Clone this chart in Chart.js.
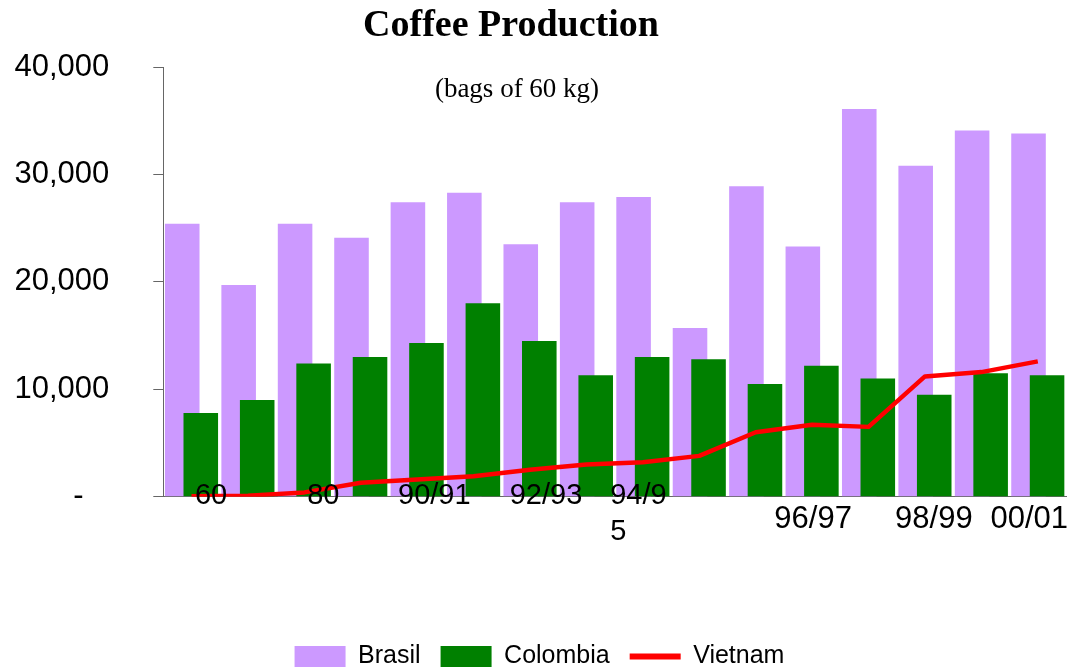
<!DOCTYPE html>
<html>
<head>
<meta charset="utf-8">
<title>Coffee Production</title>
<script src="https://cdn.jsdelivr.net/npm/chart.js@4.4.1/dist/chart.umd.min.js"></script>
<style>
  html, body { margin: 0; padding: 0; background: #ffffff; }
  #wrap { width: 1069px; height: 671px; position: relative; }
</style>
</head>
<body>
<div id="wrap"><canvas id="chart"></canvas></div>
<script>
// Production by crop year, thousands of 60 kg bags
const categories = ['60', '70', '80', '85', '90/91', '91/92', '92/93', '93/94',
  '94/95', '95/96', '96/97', '97/98', '98/99', '99/00', '00/01', '01/02'];
const brasil = [25400, 19700, 25400, 24100, 27400, 28300, 23500, 27400,
  27900, 15700, 28900, 23300, 36100, 30800, 34100, 33800];
const colombia = [7800, 9000, 12400, 13000, 14300, 18000, 14500, 11300,
  13000, 12800, 10500, 12200, 11000, 9500, 11500, 11300];
const vietnam = [50, 100, 400, 1300, 1600, 1900, 2500, 3000,
  3200, 3800, 6000, 6700, 6500, 11200, 11600, 12600];

// Category-axis labels and where along the axis (in category units) each starts
const xTickLabels = ['60', '80', '90/91', '92/93', ['94/9', '5'],
  ['', '96/97'], ['', '98/99'], ['', '00/01']];
const xTickSlots = [0.06, 2.05, 3.66, 5.64, 7.42, 10.33, 12.47, 14.16];

const yTicks = [0, 10000, 20000, 30000, 40000];

const SANS = "'Liberation Sans', Arial, Helvetica, sans-serif";
const SERIF = "'Liberation Serif', 'Times New Roman', serif";

// Colombia bars sit in front of the Brasil bars
const barLayering = {
  id: 'barLayering',
  beforeDatasetDraw(chart, args) {
    if (args.index === 1) return false;
  },
  afterDatasetDraw(chart, args) {
    if (args.index === 0) {
      const meta = chart.getDatasetMeta(1);
      if (!meta.hidden) meta.controller.draw();
    }
  }
};

// Heading and unit note
const headings = {
  id: 'headings',
  afterDraw(chart) {
    const ctx = chart.ctx;
    ctx.save();
    ctx.fillStyle = '#000000';
    ctx.textAlign = 'center';
    ctx.textBaseline = 'alphabetic';
    ctx.font = 'bold 38px ' + SERIF;
    ctx.fillText('Coffee Production', 511, 36);
    ctx.font = '27px ' + SERIF;
    ctx.fillText('(bags of 60 kg)', 517, 96.5);
    ctx.restore();
  }
};

Chart.defaults.font.family = SANS;
Chart.defaults.color = '#000000';

new Chart(document.getElementById('chart'), {
  data: {
    labels: categories,
    datasets: [
      {
        type: 'bar',
        label: 'Brasil',
        data: brasil,
        backgroundColor: '#CC99FF',
        borderWidth: 0,
        categoryPercentage: 0.657,
        barPercentage: 1.865,
        order: 0
      },
      {
        type: 'bar',
        label: 'Colombia',
        data: colombia,
        backgroundColor: '#008000',
        borderWidth: 0,
        categoryPercentage: 0.657,
        barPercentage: 1.865,
        order: 0
      },
      {
        type: 'line',
        label: 'Vietnam',
        data: vietnam,
        borderColor: '#FF0000',
        backgroundColor: '#FF0000',
        borderWidth: 4.5,
        borderJoinStyle: 'round',
        pointRadius: 0,
        tension: 0,
        fill: false,
        order: -1
      }
    ]
  },
  options: {
    responsive: true,
    maintainAspectRatio: false,
    animation: false,
    events: [],
    layout: { padding: { top: 67, left: 13, right: 3, bottom: -8 } },
    scales: {
      x: {
        type: 'category',
        offset: true,
        grid: { display: false, drawTicks: false },
        border: { display: true, color: '#666666', width: 1 },
        afterBuildTicks(scale) {
          scale.ticks = xTickSlots.map(v => ({ value: v }));
        },
        afterFit(scale) {
          scale.paddingLeft = 0;
          scale.paddingRight = 0;
          scale.height = 127.3;
        },
        ticks: {
          z: 1,
          mirror: true,
          autoSkip: false,
          maxRotation: 0,
          minRotation: 0,
          align: 'start',
          padding: -17.3,
          color: '#000000',
          callback: (value, index) => xTickLabels[index],
          font: (ctx) => ctx.index <= 4
            ? { family: SANS, size: 29, lineHeight: '36px' }
            : { family: SANS, size: 31, lineHeight: '11px' }
        }
      },
      y: {
        min: 0,
        max: 40000,
        afterBuildTicks(scale) {
          scale.ticks = yTicks.map(v => ({ value: v }));
        },
        afterFit(scale) {
          scale.width = 150.3;
        },
        grid: {
          display: true,
          drawOnChartArea: false,
          drawTicks: true,
          tickLength: 10,
          color: '#666666',
          lineWidth: 1
        },
        border: { display: true, color: '#666666', width: 1 },
        ticks: {
          padding: 44,
          color: '#000000',
          font: { family: SANS, size: 31 },
          callback: (value) => value === 0 ? '-   ' : value.toLocaleString('en-US')
        }
      }
    },
    plugins: {
      title: { display: false },
      tooltip: { enabled: false },
      legend: {
        display: true,
        position: 'bottom',
        labels: {
          usePointStyle: true,
          pointStyleWidth: 51,
          boxWidth: 51,
          boxHeight: 21,
          padding: 20,
          color: '#000000',
          font: { family: SANS, size: 25 },
          sort: (a, b) => a.datasetIndex - b.datasetIndex,
          generateLabels(chart) {
            const items = Chart.defaults.plugins.legend.labels.generateLabels(chart);
            return items.map(item => {
              const ds = chart.data.datasets[item.datasetIndex];
              if (ds.type === 'line') {
                item.pointStyle = 'line';
                item.lineWidth = 6;
                item.strokeStyle = ds.borderColor;
              } else {
                item.pointStyle = 'rect';
                item.lineWidth = 0;
              }
              return item;
            });
          }
        }
      }
    }
  },
  plugins: [barLayering, headings]
});
</script>
</body>
</html>
